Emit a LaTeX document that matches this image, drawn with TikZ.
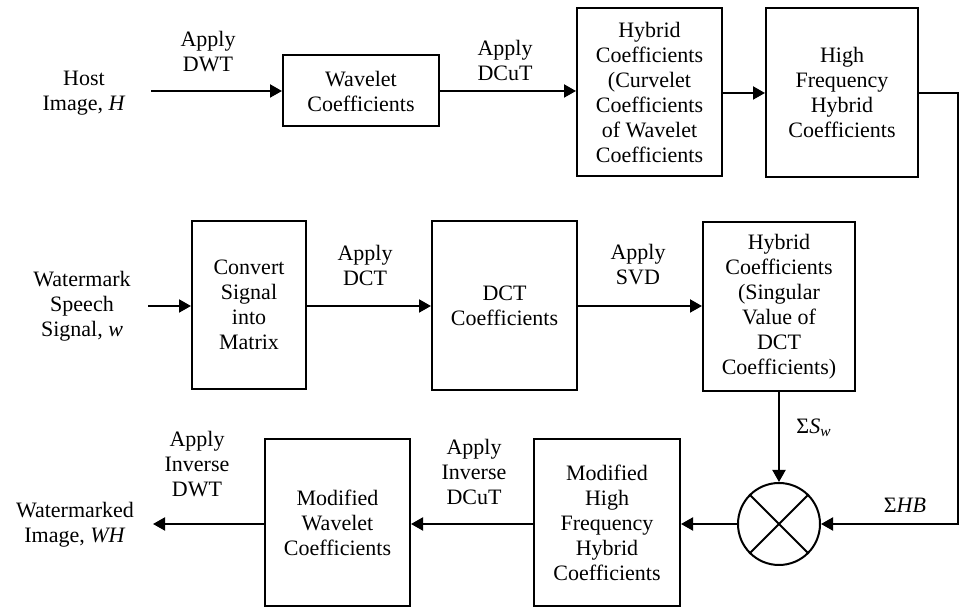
\documentclass[tikz,border=0pt]{standalone}
\usepackage{fontspec}
\setmainfont{Liberation Serif}
\usetikzlibrary{arrows.meta}
\begin{document}
\begin{tikzpicture}[x=0.5pt,y=-0.5pt,
  every node/.style={font=\fontsize{11}{12.5}\selectfont, align=center, inner sep=0pt},
  blk/.style={draw, line width=1pt, rectangle},
  arr/.style={line width=1pt, -{Triangle[length=6pt,width=6.5pt]}},
  ln/.style={line width=1pt}]
\useasboundingbox (0,0) rectangle (960,608);
% top row
\node (host) at (84,93) {Host\\Image, \textit{H}};
\coordinate (hostend) at (151,91);
\node[blk, minimum width=78pt, minimum height=35.5pt] (wav) at (361,91) {Wavelet\\Coefficients};
\node[blk, minimum width=72.5pt, minimum height=84pt] (hyb1) at (649.5,92) {Hybrid\\Coefficients\\(Curvelet\\Coefficients\\of Wavelet\\Coefficients};
\node[blk, minimum width=76pt, minimum height=84.5pt] (hf) at (842,92.5) {High\\Frequency\\Hybrid\\Coefficients};
\node (l1) at (208,52) {Apply\\DWT};
\node (l2) at (505,60) {Apply\\DCuT};
% middle row
\node (wm) at (82,306) {Watermark\\Speech\\Signal, \textit{w}};
\coordinate (wmend) at (148,306);
\node[blk, minimum width=57pt, minimum height=84pt] (conv) at (249,305) {Convert\\Signal\\into\\Matrix};
\node[blk, minimum width=72.5pt, minimum height=84.5pt] (dct) at (504.5,305.5) {DCT\\Coefficients};
\node[blk, minimum width=76pt, minimum height=84.5pt] (svd) at (779,306.5) {Hybrid\\Coefficients\\(Singular\\Value of\\DCT\\Coefficients)};
\node (l3) at (365,265) {Apply\\DCT};
\node (l4) at (638,265) {Apply\\SVD};
% bottom row
\node[draw, line width=1pt, circle, minimum size=41pt] (mult) at (779,524) {};
\draw[ln] (mult.45) -- (mult.225) (mult.135) -- (mult.315);
\node[blk, minimum width=73pt, minimum height=83.5pt] (mhf) at (607,522.5) {Modified\\High\\Frequency\\Hybrid\\Coefficients};
\node[blk, minimum width=72.5pt, minimum height=83.5pt] (mwc) at (337.5,522.5) {Modified\\Wavelet\\Coefficients};
\node (wmk) at (75,525) {Watermarked\\Image, \textit{WH}};
\coordinate (wmkend) at (153,524);
\node (l5) at (197,464) {Apply\\Inverse\\DWT};
\node (l6) at (474,472) {Apply\\Inverse\\DCuT};
\node (ls) at (814,428) {Σ\textit{S}\textsubscript{\textit{w}}};
\node (lh) at (905,505) {Σ\textit{HB}};
\coordinate (rc) at (958,524);
% connectors
\draw[arr] (hostend) -- (wav.west |- hostend);
\draw[arr] (wav.east) -- (wav.east -| hyb1.west);
\draw[arr] (hyb1.east |- 0,93) -- (hf.west |- 0,93);
\draw[arr] (hf.east |- 0,93) -| (rc) -- (mult.east);
\draw[arr] (svd.south) -- (mult.north);
\draw[arr] (wmend) -- (conv.west |- wmend);
\draw[arr] (conv.east |- 0,306) -- (dct.west |- 0,306);
\draw[arr] (dct.east |- 0,306) -- (svd.west |- 0,306);
\draw[arr] (mult.west) -- (mhf.east |- mult.west);
\draw[arr] (mhf.west |- 0,524) -- (mwc.east |- 0,524);
\draw[arr] (mwc.west |- 0,524) -- (wmkend);
\end{tikzpicture}
\end{document}
